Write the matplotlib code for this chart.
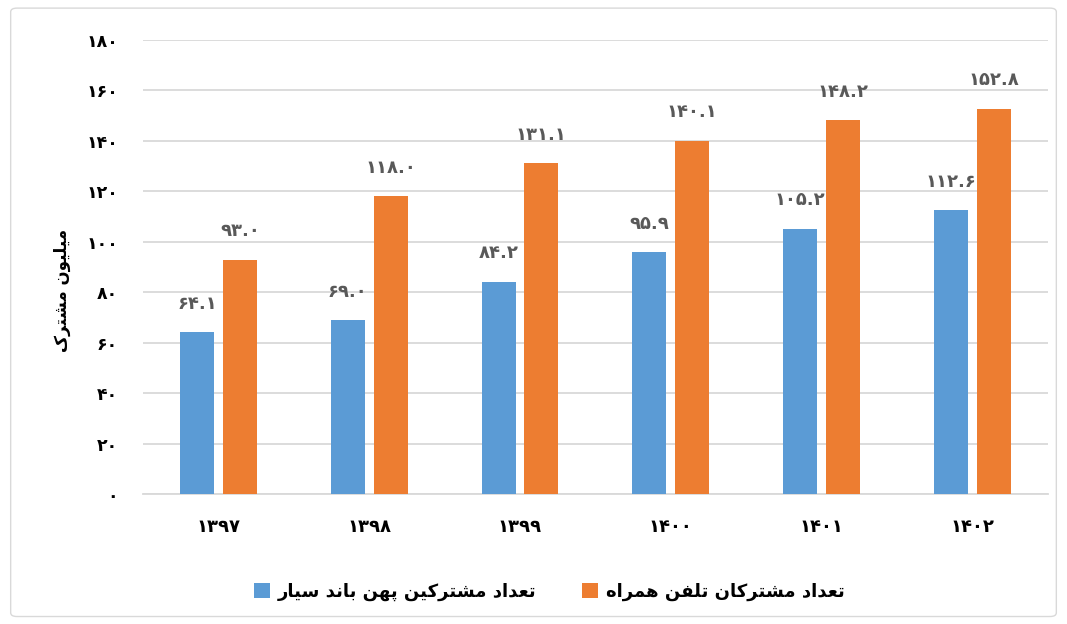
import matplotlib
matplotlib.use("Agg")
import matplotlib.pyplot as plt
from matplotlib.patches import FancyBboxPatch
import numpy as np

# ---------------- data ----------------
years = ['۱۳۹۷', '۱۳۹۸', '۱۳۹۹', '۱۴۰۰', '۱۴۰۱', '۱۴۰۲']
broadband = [64.1, 69.0, 84.2, 95.9, 105.2, 112.6]      # تعداد مشترکین پهن باند سیار
mobile = [93.0, 118.0, 131.1, 140.1, 148.2, 152.8]      # تعداد مشترکان تلفن همراه
yticks = [0, 20, 40, 60, 80, 100, 120, 140, 160, 180]
series_names = ['تعداد مشترکین پهن باند سیار', 'تعداد مشترکان تلفن همراه']
ylabel_text = 'میلیون مشترک'

# ---------------- simple Persian shaping ----------------
FORMS = {  # isolated, final, initial, medial
    'ا': ('\uFE8D', '\uFE8E', None, None),
    'ب': ('\uFE8F', '\uFE90', '\uFE91', '\uFE92'),
    'پ': ('\uFB56', '\uFB57', '\uFB58', '\uFB59'),
    'ت': ('\uFE95', '\uFE96', '\uFE97', '\uFE98'),
    'د': ('\uFEA9', '\uFEAA', None, None),
    'ر': ('\uFEAD', '\uFEAE', None, None),
    'س': ('\uFEB1', '\uFEB2', '\uFEB3', '\uFEB4'),
    'ش': ('\uFEB5', '\uFEB6', '\uFEB7', '\uFEB8'),
    'ع': ('\uFEC9', '\uFECA', '\uFECB', '\uFECC'),
    'ف': ('\uFED1', '\uFED2', '\uFED3', '\uFED4'),
    'ک': ('\uFB8E', '\uFB8F', '\uFB90', '\uFB91'),
    'ل': ('\uFEDD', '\uFEDE', '\uFEDF', '\uFEE0'),
    'م': ('\uFEE1', '\uFEE2', '\uFEE3', '\uFEE4'),
    'ن': ('\uFEE5', '\uFEE6', '\uFEE7', '\uFEE8'),
    'ه': ('\uFEE9', '\uFEEA', '\uFEEB', '\uFEEC'),
    'و': ('\uFEED', '\uFEEE', None, None),
    'ی': ('\uFBFC', '\uFBFD', '\uFBFE', '\uFBFF'),
}


def fa(text):
    out = []
    n = len(text)
    for i, ch in enumerate(text):
        if ch not in FORMS:
            out.append(ch)
            continue
        iso, fin, ini, med = FORMS[ch]
        prev = text[i - 1] if i > 0 else ''
        nxt = text[i + 1] if i + 1 < n else ''
        pj = prev in FORMS and FORMS[prev][2] is not None
        nj = nxt in FORMS and ini is not None
        if pj and nj:
            out.append(med)
        elif pj:
            out.append(fin)
        elif nj:
            out.append(ini)
        else:
            out.append(iso)
    return ''.join(out)[::-1]


FA_DIGITS = str.maketrans('0123456789', '۰۱۲۳۴۵۶۷۸۹')


def fa_num(v, fmt='{:.1f}'):
    return fmt.format(v).translate(FA_DIGITS)


# ---------------- plot ----------------
plt.rcParams['font.family'] = ['DejaVu Sans']
BLUE = '#5B9BD5'
ORANGE = '#ED7D31'
LABEL = '#595959'

fig = plt.figure(figsize=(10.67, 6.24), dpi=100)
ax = fig.add_axes([0.134, 0.208, 0.848, 0.728])

x = np.arange(len(years))
w = 0.225
off = 0.142
b1 = ax.bar(x - off, broadband, w, color=BLUE, zorder=3)
b2 = ax.bar(x + off, mobile, w, color=ORANGE, zorder=3)

for xs, vals in ((x - off, broadband), (x + off, mobile)):
    for xi, v in zip(xs, vals):
        ax.annotate(fa_num(v), (xi, v), xytext=(0, 14), textcoords='offset points',
                    ha='center', va='bottom', fontsize=13, fontweight='bold', color=LABEL)

ax.set_xlim(-0.5, len(years) - 0.5)
ax.set_ylim(0, 180)
ax.set_yticks(yticks)
ax.set_yticklabels([fa_num(t, '{:d}') for t in yticks], fontsize=12.5, fontweight='bold')
ax.set_xticks(x)
ax.set_xticklabels(years, fontsize=13, fontweight='bold')
ax.tick_params(axis='y', length=0, pad=18)
ax.tick_params(axis='x', length=0, pad=17)
ax.grid(axis='y', color='#D9D9D9', linewidth=1.3, zorder=0)
for s in ['top', 'right', 'left']:
    ax.spines[s].set_visible(False)
ax.spines['bottom'].set_color('#D9D9D9')
ax.spines['bottom'].set_linewidth(1.3)
ax.set_ylabel(fa(ylabel_text), fontsize=12, fontweight='bold')
ax.yaxis.set_label_coords(-0.079, 0.449)

# legend (blue on the left, orange on the right)
fig.legend([b1, b2], [fa(series_names[0]), fa(series_names[1])],
           loc='center', bbox_to_anchor=(0.515, 0.051), ncol=2, frameon=False,
           prop={'size': 13, 'weight': 'bold'}, handlelength=0.9, handleheight=0.9,
           handletextpad=0.45, columnspacing=2.5)

# figure border
fig.patches.append(FancyBboxPatch((0.010, 0.012), 0.980, 0.975,
                                  boxstyle='round,pad=0,rounding_size=0.006',
                                  transform=fig.transFigure, fill=False,
                                  edgecolor='#D9D9D9', linewidth=1.0))

fig.savefig('out.png', dpi=100)
